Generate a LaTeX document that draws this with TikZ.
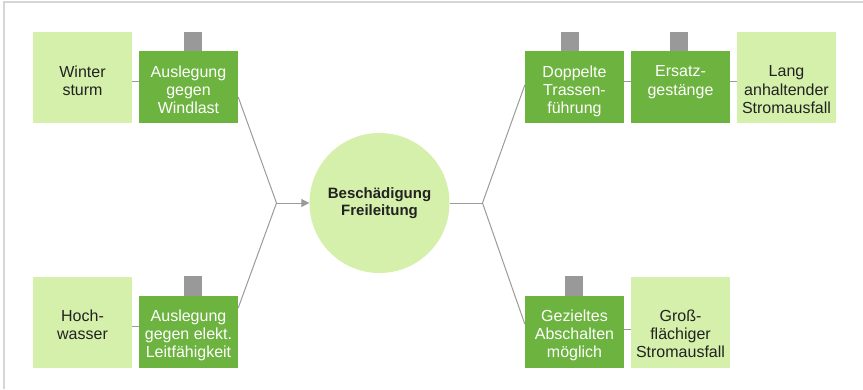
\documentclass[tikz,border=0pt]{standalone}
\usepackage{fontspec}
\setmainfont{Liberation Sans}
\usetikzlibrary{arrows.meta}
\definecolor{dgreen}{HTML}{6DB33F}
\definecolor{lgreen}{HTML}{D4F0AA}
\definecolor{tabgray}{HTML}{999999}
\definecolor{linegray}{HTML}{9A9A9A}
\definecolor{framegray}{HTML}{D6D6D6}
\definecolor{txtdark}{HTML}{222222}
\tikzset{
  darkbox/.style={rectangle, fill=dgreen, inner sep=0pt, minimum width=99pt, minimum height=72pt},
  lightbox/.style={rectangle, fill=lgreen, inner sep=0pt, minimum width=99pt, minimum height=91pt},
  tabbox/.style={rectangle, fill=tabgray, inner sep=0pt, minimum width=18pt, minimum height=20pt},
  wtext/.style={anchor=north, inner sep=0pt, align=center, text=white, font=\fontsize{16}{18.3}\selectfont},
  dtext/.style={anchor=north, inner sep=0pt, align=center, text=txtdark, font=\fontsize{16}{18.3}\selectfont},
  conn/.style={draw=linegray, line width=1pt},
  centrenode/.style={circle, fill=lgreen, inner sep=0pt, minimum size=140pt, align=center, text=txtdark, font=\fontsize{15}{16.7}\selectfont\bfseries}
}
\begin{document}
\begin{tikzpicture}[x=1pt, y=-1pt]
\useasboundingbox (0,0) rectangle (863,389);
\draw[framegray, line width=1.5pt] (3.8,389) -- (3.8,1.8) -- (863,1.8);

% tabs
\node[tabbox] (t1) at (193,41.5) {};
\node[tabbox] (t2) at (193,286) {};
\node[tabbox] (t3) at (570,41.5) {};
\node[tabbox] (t4) at (679,41.5) {};
\node[tabbox] (t5) at (574,286) {};

% boxes
\node[lightbox] (ws) at (82.5,77.5) {};
\node[darkbox] (al1) at (188.5,87) {};
\node[lightbox] (hw) at (82.5,322.5) {};
\node[darkbox] (al2) at (188.5,332) {};
\node[darkbox] (dt) at (574.5,87) {};
\node[darkbox] (eg) at (680.5,87) {};
\node[lightbox] (la) at (786.5,77.5) {};
\node[darkbox] (ga) at (574.5,332) {};
\node[lightbox] (gf) at (680.5,322.5) {};

% texts
\node[dtext] (wsT) at (82.5,65.5) {Winter\\sturm};
\node[wtext] (al1T) at (188.5,65.5) {Auslegung\\gegen\\Windlast};
\node[dtext] (hwT) at (82.5,309.3) {Hoch-\\wasser};
\node[wtext] (al2T) at (188.5,309.3) {Auslegung\\gegen elekt.\\Leitfähigkeit};
\node[wtext] (dtT) at (574.5,65.5) {Doppelte\\Trassen-\\führung};
\node[wtext] (egT) at (680.5,65.5) {Ersatz-\\gestänge};
\node[dtext] (laT) at (786.5,65.5) {Lang\\anhaltender\\Stromausfall};
\node[wtext] (gaT) at (574.5,309.3) {Gezieltes\\Abschalten\\möglich};
\node[dtext] (gfT) at (680.5,309.3) {Groß-\\flächiger\\Stromausfall};

% centre
\node[centrenode] (c) at (379.5,203) {Beschädigung\\Freileitung};

% junctions
\coordinate (jl) at (276.5,203);
\coordinate (jr) at (482.5,203);

% connectors
\draw[conn] (ws.east |- 0,81) -- (al1.west |- 0,81);
\draw[conn] (hw.east |- 0,326) -- (al2.west |- 0,326);
\draw[conn] (dt.east |- 0,81) -- (eg.west |- 0,81);
\draw[conn] (eg.east |- 0,81) -- (la.west |- 0,81);
\draw[conn] (ga.east |- 0,329) -- (gf.west |- 0,329);

\draw[conn] (al1.east |- 0,97) -- (jl) -- (al2.east |- 0,308);
\draw[conn, -{Triangle[length=8pt,width=8pt]}] (jl) -- (c.west);
\draw[conn] (c.east) -- (jr);
\draw[conn] (dt.west |- 0,85) -- (jr) -- (ga.west |- 0,324);
\end{tikzpicture}
\end{document}
